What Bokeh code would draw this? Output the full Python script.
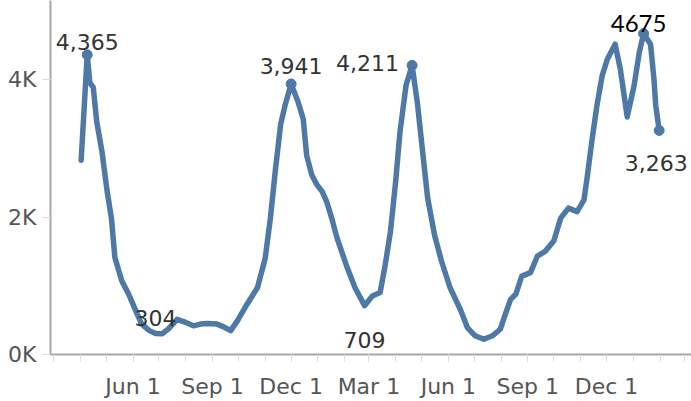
import pandas as pd
from bokeh.plotting import figure
from bokeh.models import FixedTicker, Range1d, Label, ColumnDataSource
from bokeh.embed import file_html
from bokeh.resources import INLINE

# ---- data ----
dates = [
    "2020-04-02", "2020-04-09", "2020-04-12", "2020-04-16", "2020-04-20", "2020-04-26",
    "2020-05-02", "2020-05-07", "2020-05-11", "2020-05-19", "2020-05-27", "2020-06-04",
    "2020-06-11", "2020-06-20", "2020-06-27", "2020-07-05", "2020-07-12", "2020-07-22",
    "2020-08-01", "2020-08-10", "2020-08-18", "2020-08-26", "2020-09-06", "2020-09-14",
    "2020-09-22", "2020-09-30", "2020-10-11", "2020-10-23", "2020-11-01", "2020-11-07",
    "2020-11-13", "2020-11-19", "2020-11-24", "2020-12-01", "2020-12-09", "2020-12-15",
    "2020-12-19", "2020-12-25", "2020-12-31", "2021-01-06", "2021-01-11", "2021-01-17",
    "2021-01-23", "2021-02-04", "2021-02-13", "2021-02-24", "2021-03-05", "2021-03-14",
    "2021-03-20", "2021-03-26", "2021-04-01", "2021-04-06", "2021-04-13", "2021-04-20",
    "2021-04-26", "2021-05-03", "2021-05-08", "2021-05-16", "2021-05-24", "2021-06-03",
    "2021-06-15", "2021-06-23", "2021-07-02", "2021-07-12", "2021-07-22", "2021-07-31",
    "2021-08-06", "2021-08-12", "2021-08-18", "2021-08-25", "2021-09-04", "2021-09-12",
    "2021-09-21", "2021-10-01", "2021-10-09", "2021-10-18", "2021-10-28", "2021-11-05",
    "2021-11-09", "2021-11-14", "2021-11-20", "2021-11-26", "2021-12-02", "2021-12-06",
    "2021-12-11", "2021-12-17", "2021-12-25", "2022-01-02", "2022-01-08", "2022-01-13",
    "2022-01-21", "2022-01-25", "2022-01-27", "2022-01-31",
]
values = [
    2830, 4365, 3960, 3890, 3390, 2960,
    2380, 1985, 1410, 1070, 875, 640,
    440, 345, 304, 300, 370, 510,
    465, 415, 440, 450, 440, 400,
    345, 490, 730, 970, 1400, 1985,
    2710, 3360, 3630, 3941, 3680, 3430,
    2900, 2610, 2470, 2370, 2230, 1985,
    1700, 1260, 970, 709, 850, 900,
    1310, 1790, 2520, 3240, 3920, 4211,
    3680, 2860, 2280, 1740, 1360, 970,
    650, 390, 270, 220, 270, 365,
    585, 800, 875, 1140, 1190, 1430,
    1500, 1650, 1985, 2130, 2080, 2250,
    2610, 3100, 3630, 4060, 4300, 4400,
    4520, 4160, 3460, 3920, 4400, 4675,
    4520, 4010, 3630, 3263,
]

# labelled points
label_dates = ["2020-04-09", "2020-06-27", "2020-12-01", "2021-02-24", "2021-04-20", "2022-01-13", "2022-01-31"]
label_values = [4365, 304, 3941, 709, 4211, 4675, 3263]
label_texts = ["4,365", "304", "3,941", "709", "4,211", "4675", "3,263"]
marker_flags = [True, False, True, False, True, True, True]

# axis ticks
x_tick_dates = ["2020-06-01", "2020-09-01", "2020-12-01", "2021-03-01", "2021-06-01", "2021-09-01", "2021-12-01"]
x_tick_labels = ["Jun 1", "Sep 1", "Dec 1", "Mar 1", "Jun 1", "Sep 1", "Dec 1"]
y_ticks = [0, 2000, 4000]
y_tick_labels = ["0K", "2K", "4K"]


def ms(d):
    return int(pd.Timestamp(d).value // 10**6)


BLUE = "#4E79A7"

src = ColumnDataSource(dict(date=pd.to_datetime(dates), value=values))

p = figure(width=691, height=401, x_axis_type="datetime", output_backend="svg",
           toolbar_location=None,
           x_range=Range1d(pd.Timestamp("2020-02-26 12:00"), pd.Timestamp("2022-03-09 10:00")),
           y_range=Range1d(-3, 5157),
           min_border_left=50, min_border_right=0, min_border_top=0, min_border_bottom=46)
p.outline_line_color = None
p.grid.visible = False
p.background_fill_color = "white"
p.border_fill_color = "white"

p.line("date", "value", source=src, line_width=5.5, line_color=BLUE,
       line_join="round", line_cap="round")

mk_x = [pd.Timestamp(d) for d, f in zip(label_dates, marker_flags) if f]
mk_y = [v for v, f in zip(label_values, marker_flags) if f]
p.scatter(mk_x, mk_y, size=10, fill_color=BLUE, line_color=BLUE)

# label placement (screen offsets)
offsets = {
    "4,365": dict(x_offset=0, y_offset=13, text_align="center"),
    "304": dict(x_offset=0, y_offset=15, text_align="center"),
    "3,941": dict(x_offset=0, y_offset=18, text_align="center"),
    "709": dict(x_offset=0, y_offset=-34, text_align="center"),
    "4,211": dict(x_offset=-13, y_offset=2, text_align="right"),
    "4675": dict(x_offset=-5, y_offset=10, text_align="center"),
    "3,263": dict(x_offset=-3, y_offset=-33, text_align="center"),
}
for d, v, t in zip(label_dates, label_values, label_texts):
    o = offsets[t]
    if t == "4675":
        font, size, color = "Lato", "24px", "#000000"
    else:
        font, size, color = "DejaVu Sans", "22px", "#333333"
    p.add_layout(Label(x=ms(d), y=v, text=t, text_font=font, text_font_size=size,
                       text_color=color, text_baseline="alphabetic", **o))

# axes
minor = [ms(d) for d in pd.date_range("2020-03-01", "2022-03-01", freq="MS")]
xt = [ms(d) for d in x_tick_dates]
xa = p.xaxis[0]
xa.ticker = FixedTicker(ticks=xt, minor_ticks=minor)
xa.major_label_overrides = dict(zip(xt, x_tick_labels))
xa.major_tick_out = 7
xa.major_tick_in = 0
xa.minor_tick_out = 7
xa.minor_tick_in = 0
xa.major_label_standoff = 12

ya = p.yaxis[0]
ya.ticker = FixedTicker(ticks=y_ticks)
ya.major_label_overrides = dict(zip(y_ticks, y_tick_labels))
ya.major_tick_out = 8
ya.major_tick_in = 0
ya.minor_tick_line_color = None
ya.major_label_standoff = 6

for ax in (xa, ya):
    ax.axis_line_color = "#a8a8a8"
    ax.axis_line_width = 2
    ax.major_tick_line_color = "#dcdcdc"
    ax.minor_tick_line_color = "#dcdcdc" if ax is xa else None
    ax.major_label_text_font = "DejaVu Sans"
    ax.major_label_text_font_size = "22px"
    ax.major_label_text_color = "#555555"

open("out.html", "w").write(file_html(p, INLINE))
